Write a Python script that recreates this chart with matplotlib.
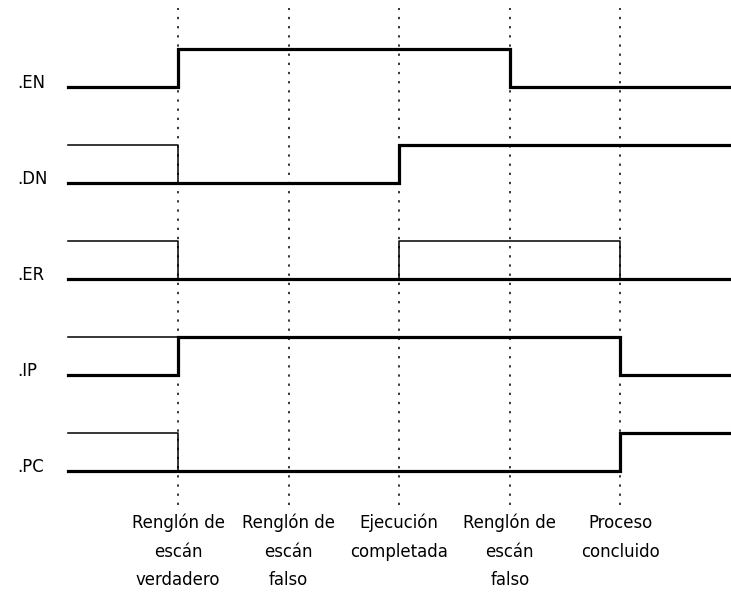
import matplotlib.pyplot as plt
from matplotlib import font_manager

# Señales y eventos del diagrama de tiempos
senales = ['.EN', '.DN', '.ER', '.IP', '.PC']
eventos = [1, 2, 3, 4, 5]
etiquetas = ['Renglón de\nescán\nverdadero', 'Renglón de\nescán\nfalso',
             'Ejecución\ncompletada', 'Renglón de\nescán\nfalso', 'Proceso\nconcluido']

# Estado actual (línea gruesa): tiempos y niveles
en_t, en_v = [0, 1, 4, 6], [0, 1, 0, 0]
dn_t, dn_v = [0, 3, 6], [0, 1, 1]
er_t, er_v = [0, 6], [0, 0]
ip_t, ip_v = [0, 1, 5, 6], [0, 1, 0, 0]
pc_t, pc_v = [0, 5, 6], [0, 1, 1]

# Estado posible (línea delgada)
dn_prev_t, dn_prev_v = [0, 1], [1, 0]
er_prev_t, er_prev_v = [0, 1], [1, 0]
er_pulso_t, er_pulso_v = [3, 3, 5], [0, 1, 0]
ip_prev_t, ip_prev_v = [0, 1], [1, 1]
pc_prev_t, pc_prev_v = [0, 1], [1, 0]

gruesas = [(en_t, en_v), (dn_t, dn_v), (er_t, er_v), (ip_t, ip_v), (pc_t, pc_v)]
delgadas = [[], [(dn_prev_t, dn_prev_v)],
            [(er_prev_t, er_prev_v), (er_pulso_t, er_pulso_v)],
            [(ip_prev_t, ip_prev_v)], [(pc_prev_t, pc_prev_v)]]

nombres = {f.name for f in font_manager.fontManager.ttflist}
fuente = 'Liberation Sans Narrow' if 'Liberation Sans Narrow' in nombres else 'DejaVu Sans'
plt.rcParams['font.family'] = [fuente, 'DejaVu Sans']
if fuente == 'DejaVu Sans':
    plt.rcParams['font.stretch'] = 'condensed'
TAM = 14 if fuente != 'DejaVu Sans' else 13.2

AMP = 0.4
fig = plt.figure(figsize=(7.31, 5.96), dpi=100)
ax = fig.add_axes([0, 0, 1, 1])
ax.set_xlim(-0.611, 6.0)
ax.set_ylim(-5.302, 0.906)
ax.axis('off')

for x in eventos:
    ax.plot([x, x], [-4.354, 0.823], color='black', lw=1.1,
            linestyle=(0, (1.5, 4.5)), zorder=1)

for i, nombre in enumerate(senales):
    base = -i
    for t, v in delgadas[i]:
        ax.step(t, [base + AMP * a for a in v], where='post',
                color='black', lw=1.1, zorder=2)
    t, v = gruesas[i]
    ax.step(t, [base + AMP * a for a in v], where='post',
            color='black', lw=2.3, zorder=3, solid_joinstyle='miter')
    ax.text(-0.458, base - 0.01, nombre, ha='left', va='baseline', fontsize=TAM)

# etiquetas inferiores, una línea a la vez
for x, lab in zip(eventos, etiquetas):
    for j, linea in enumerate(lab.split('\n')):
        ax.text(x, -4.594 - 0.297 * j, linea, ha='center', va='baseline',
                fontsize=TAM)

fig.savefig('out.png', dpi=100)
